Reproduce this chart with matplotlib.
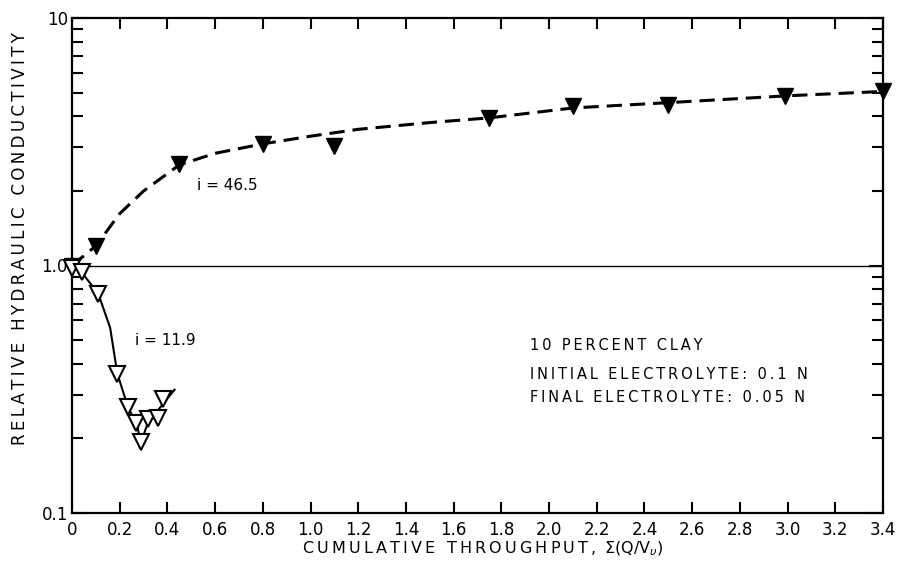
import matplotlib
matplotlib.use("Agg")
import matplotlib.pyplot as plt
from matplotlib.ticker import FixedLocator, FixedFormatter, LogLocator, NullFormatter

# filled triangles, i = 46.5 (dashed curve)
high_x = [0.0, 0.10, 0.45, 0.80, 1.10, 1.75, 2.10, 2.50, 2.99, 3.40]
high_y = [1.00, 1.20, 2.58, 3.11, 3.05, 3.93, 4.39, 4.47, 4.86, 5.05]
# path of the hand-drawn dashed curve
high_curve_x = [0.0, 0.10, 0.20, 0.30, 0.45, 0.60, 0.80, 1.00, 1.20, 1.50, 1.75, 2.10, 2.50, 3.00, 3.40]
high_curve_y = [1.0, 1.20, 1.62, 2.00, 2.55, 2.84, 3.10, 3.33, 3.55, 3.78, 3.95, 4.33, 4.55, 4.85, 5.05]

# open triangles, i = 11.9 (solid curve)
low_x = [0.0, 0.04, 0.11, 0.19, 0.235, 0.27, 0.29, 0.32, 0.36, 0.38]
low_y = [0.98, 0.94, 0.77, 0.366, 0.267, 0.23, 0.193, 0.24, 0.243, 0.29]
low_curve_x = [0.0, 0.04, 0.11, 0.16, 0.19, 0.235, 0.27, 0.29, 0.32, 0.36, 0.43]
low_curve_y = [1.0, 0.94, 0.77, 0.56, 0.366, 0.267, 0.23, 0.193, 0.235, 0.26, 0.315]

x_ticks = [round(0.2 * k, 1) for k in range(18)]
x_labels = ["0"] + ["%.1f" % v for v in x_ticks[1:]]
y_ticks = [0.1, 1.0, 10]
y_labels = ["0.1", "1.0", "10"]


def spaced(s):
    # old lettering-guide text is widely spaced
    return "\u2009".join(s)


fig = plt.figure(figsize=(8.98, 5.64), dpi=100)
ax = fig.add_axes([72 / 898, 51 / 564, 811 / 898, 495 / 564])

ax.set_yscale("log")
ax.set_xlim(0, 3.4)
ax.set_ylim(0.1, 10)

ax.axhline(1.0, color="black", linewidth=1.0)

ax.plot(high_curve_x, high_curve_y, color="black", linewidth=2.2,
        linestyle=(0, (5, 2.6)), zorder=2)
ax.plot(high_x, high_y, linestyle="none", marker="v", markersize=11,
        color="black", zorder=3, clip_on=False)

ax.plot(low_curve_x, low_curve_y, color="black", linewidth=1.5, zorder=2)
ax.plot(low_x, low_y, linestyle="none", marker="v", markersize=11,
        markerfacecolor="white", markeredgecolor="black", markeredgewidth=1.5,
        zorder=3, clip_on=False)

ax.text(0.525, 2.1, "i = 46.5", fontsize=11, ha="left", va="center")
ax.text(0.264, 0.50, "i = 11.9", fontsize=11, ha="left", va="center")

ax.text(1.92, 0.475, spaced("10 PERCENT CLAY"), fontsize=10.5, ha="left", va="center")
ax.text(1.92, 0.363, spaced("INITIAL ELECTROLYTE: 0.1 N"), fontsize=10.5, ha="left", va="center")
ax.text(1.92, 0.293, spaced("FINAL ELECTROLYTE: 0.05 N"), fontsize=10.5, ha="left", va="center")

ax.xaxis.set_major_locator(FixedLocator(x_ticks))
ax.xaxis.set_major_formatter(FixedFormatter(x_labels))
ax.yaxis.set_major_locator(FixedLocator(y_ticks))
ax.yaxis.set_major_formatter(FixedFormatter(y_labels))
ax.yaxis.set_minor_locator(LogLocator(base=10, subs=range(2, 10)))
ax.yaxis.set_minor_formatter(NullFormatter())

ax.tick_params(axis="both", which="both", direction="in", top=True, right=True,
               width=1.5, labelsize=12)
ax.tick_params(axis="x", which="major", length=8, pad=6)
ax.tick_params(axis="y", which="major", length=10, pad=3)
ax.tick_params(axis="y", which="minor", length=8)

for spine in ax.spines.values():
    spine.set_linewidth(1.6)

fig.text(0.537, 0.027, spaced("CUMULATIVE THROUGHPUT, ") + "Σ(Q/V$_\\upsilon$)",
         fontsize=11.5, ha="center", va="center")
fig.text(0.022, 0.578, spaced("RELATIVE HYDRAULIC CONDUCTIVITY"), fontsize=12,
         rotation=90, ha="center", va="center")

fig.savefig("out.png", dpi=100)
